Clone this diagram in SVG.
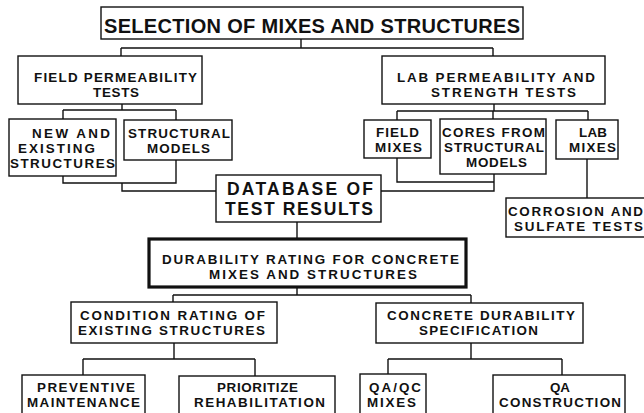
<svg xmlns="http://www.w3.org/2000/svg" width="644" height="413" viewBox="0 0 644 413">
  <style>
    .box { fill: #fff; stroke: #111; stroke-width: 1.4; }
    .thick { fill: #fff; stroke: #111; stroke-width: 3.2; }
    .wire { fill: none; stroke: #111; stroke-width: 1.4; }
    text { font-family: "Liberation Sans", Arial, sans-serif; font-weight: bold; fill: #111; }
    .t20 { font-size: 20px; }
    .t18 { font-size: 17.5px; }
    .t15 { font-size: 13.4px; }
    .t16 { font-size: 13.4px; }
  </style>
  <rect width="644" height="413" fill="#fff"/>

  <!-- connectors -->
  <g id="connectors" class="wire">
    <path d="M301,39 V48 M121,48 H493 M121,48 V56 M493,48 V56"/>
    <path d="M122,104 V110 M63,110 H176 M63,110 V119 M176,110 V120"/>
    <path d="M63,176 V183 H176 V160 M122,183 V191 H216"/>
    <path d="M494,104 V111 M397,111 H588 M397,111 V120 M493,111 V119 M588,111 V120"/>
    <path d="M397,158 V182 H494 V174 M494,182 V191 H381"/>
    <path d="M587,159 V198"/>
    <path d="M297,222 V239"/>
    <path d="M297,287 V295 M173,295 H471 M173,295 V302 M471,295 V303"/>
    <path d="M174,343 V359 M83,359 H255 M83,359 V375 M255,359 V376"/>
    <path d="M471,343 V359 M388,359 H562 M388,359 V374 M562,359 V375"/>
  </g>

  <g id="selection">
    <rect class="box" x="101" y="7" width="422" height="32"/>
    <text class="t20" x="104" y="33" textLength="416" lengthAdjust="spacing">SELECTION OF MIXES AND STRUCTURES</text>
  </g>

  <g id="field-permeability">
    <rect class="box" x="18" y="56" width="184" height="48"/>
    <text class="t15" x="34" y="82" textLength="163" lengthAdjust="spacing">FIELD PERMEABILITY</text>
    <text class="t15" x="93" y="97" textLength="46" lengthAdjust="spacing">TESTS</text>
  </g>

  <g id="lab-permeability">
    <rect class="box" x="382" y="56" width="223" height="48"/>
    <text class="t15" x="397" y="82" textLength="198" lengthAdjust="spacing">LAB PERMEABILITY AND</text>
    <text class="t15" x="431" y="97" textLength="145" lengthAdjust="spacing">STRENGTH TESTS</text>
  </g>

  <g id="new-existing">
    <rect class="box" x="9" y="119" width="107" height="57"/>
    <text class="t15" x="32" y="138" textLength="78" lengthAdjust="spacing">NEW AND</text>
    <text class="t15" x="18" y="153" textLength="77" lengthAdjust="spacing">EXISTING</text>
    <text class="t15" x="10" y="168" textLength="105" lengthAdjust="spacing">STRUCTURES</text>
  </g>

  <g id="structural-models">
    <rect class="box" x="124" y="120" width="108" height="40"/>
    <text class="t15" x="128" y="138" textLength="102" lengthAdjust="spacing">STRUCTURAL</text>
    <text class="t15" x="147" y="153" textLength="63" lengthAdjust="spacing">MODELS</text>
  </g>

  <g id="field-mixes">
    <rect class="box" x="364" y="120" width="67" height="38"/>
    <text class="t15" x="376" y="137" textLength="43" lengthAdjust="spacing">FIELD</text>
    <text class="t15" x="375" y="152" textLength="47" lengthAdjust="spacing">MIXES</text>
  </g>

  <g id="cores">
    <rect class="box" x="440" y="119" width="106" height="55"/>
    <text class="t15" x="442" y="137" textLength="103" lengthAdjust="spacing">CORES FROM</text>
    <text class="t15" x="444" y="152" textLength="100" lengthAdjust="spacing">STRUCTURAL</text>
    <text class="t15" x="466" y="167" textLength="61" lengthAdjust="spacing">MODELS</text>
  </g>

  <g id="lab-mixes">
    <rect class="box" x="556" y="120" width="62" height="39"/>
    <text class="t15" x="579" y="137" textLength="28" lengthAdjust="spacing">LAB</text>
    <text class="t15" x="569" y="152" textLength="47" lengthAdjust="spacing">MIXES</text>
  </g>

  <g id="database">
    <rect class="box" x="216" y="175" width="165" height="47"/>
    <text class="t18" x="227" y="195" textLength="146" lengthAdjust="spacing">DATABASE OF</text>
    <text class="t18" x="225" y="215" textLength="148" lengthAdjust="spacing">TEST RESULTS</text>
  </g>

  <g id="corrosion">
    <rect class="box" x="506" y="198" width="142" height="39"/>
    <text class="t15" x="508" y="216" textLength="135" lengthAdjust="spacing">CORROSION AND</text>
    <text class="t15" x="514" y="231" textLength="129" lengthAdjust="spacing">SULFATE TESTS</text>
  </g>

  <g id="durability">
    <rect class="thick" x="149" y="239" width="317" height="48"/>
    <text class="t15" x="162" y="264" textLength="297" lengthAdjust="spacing">DURABILITY RATING FOR CONCRETE</text>
    <text class="t15" x="209" y="279" textLength="208" lengthAdjust="spacing">MIXES AND STRUCTURES</text>
  </g>

  <g id="condition-rating">
    <rect class="box" x="71" y="302" width="206" height="41"/>
    <text class="t15" x="80" y="320" textLength="185" lengthAdjust="spacing">CONDITION RATING OF</text>
    <text class="t15" x="78" y="335" textLength="187" lengthAdjust="spacing">EXISTING STRUCTURES</text>
  </g>

  <g id="specification">
    <rect class="box" x="376" y="303" width="207" height="40"/>
    <text class="t15" x="387" y="320" textLength="188" lengthAdjust="spacing">CONCRETE DURABILITY</text>
    <text class="t15" x="419" y="335" textLength="119" lengthAdjust="spacing">SPECIFICATION</text>
  </g>

  <g id="preventive">
    <rect class="box" x="22" y="375" width="123" height="50"/>
    <text class="t16" x="37" y="392" textLength="98" lengthAdjust="spacing">PREVENTIVE</text>
    <text class="t16" x="27" y="407" textLength="113" lengthAdjust="spacing">MAINTENANCE</text>
  </g>

  <g id="prioritize">
    <rect class="box" x="179" y="376" width="156" height="50"/>
    <text class="t16" x="217" y="392" textLength="81" lengthAdjust="spacing">PRIORITIZE</text>
    <text class="t16" x="194" y="407" textLength="131" lengthAdjust="spacing">REHABILITATION</text>
  </g>

  <g id="qaqc-mixes">
    <rect class="box" x="360" y="374" width="66" height="50"/>
    <text class="t16" x="369" y="392" textLength="52" lengthAdjust="spacing">QA/QC</text>
    <text class="t16" x="367" y="407" textLength="49" lengthAdjust="spacing">MIXES</text>
  </g>

  <g id="qa-construction">
    <rect class="box" x="493" y="375" width="132" height="50"/>
    <text class="t16" x="560" y="392" text-anchor="middle">QA</text>
    <text class="t16" x="499" y="407" textLength="122" lengthAdjust="spacing">CONSTRUCTION</text>
  </g>
</svg>
